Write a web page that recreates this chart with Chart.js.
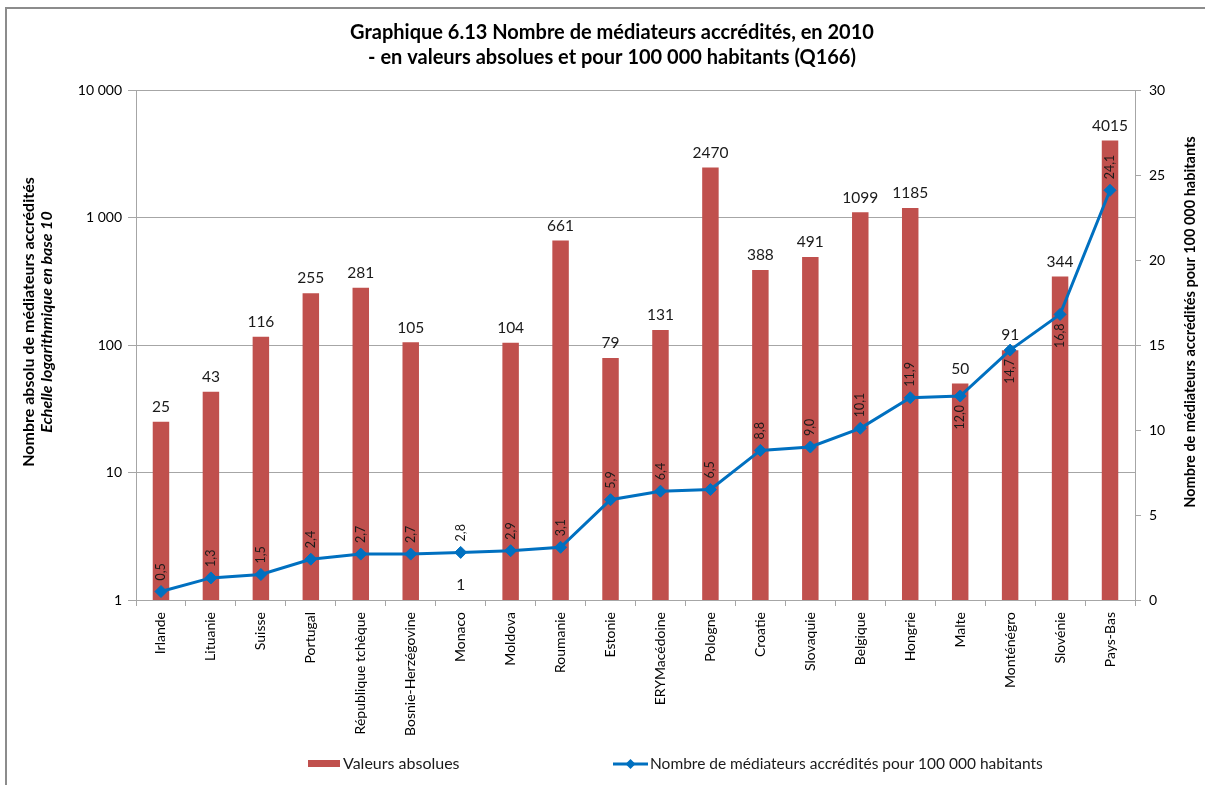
<!DOCTYPE html>
<html>
<head>
<meta charset="utf-8">
<script src="https://cdn.jsdelivr.net/npm/chart.js@4.4.0/dist/chart.umd.min.js"></script>
<style>
    html, body { margin: 0; padding: 0; background: #fff; }
    #wrap { width: 1205px; height: 785px; }
</style>
</head>
<body>
<div id="wrap"><canvas id="mediateursChart" width="1205" height="785"></canvas></div>
<script>
// Data
var pays = ['Irlande', 'Lituanie', 'Suisse', 'Portugal', 'République tchèque', 'Bosnie-Herzégovine',
    'Monaco', 'Moldova', 'Roumanie', 'Estonie', 'ERYMacédoine', 'Pologne', 'Croatie', 'Slovaquie',
    'Belgique', 'Hongrie', 'Malte', 'Monténégro', 'Slovénie', 'Pays-Bas'];
var valeursAbsolues = [25, 43, 116, 255, 281, 105, 1, 104, 661, 79, 131, 2470, 388, 491, 1099, 1185, 50, 91, 344, 4015];
var pour100000 = [0.5, 1.3, 1.5, 2.4, 2.7, 2.7, 2.8, 2.9, 3.1, 5.9, 6.4, 6.5, 8.8, 9.0, 10.1, 11.9, 12.0, 14.7, 16.8, 24.1];
var ticksGauche = [1, 10, 100, 1000, 10000];
var ticksDroite = [0, 5, 10, 15, 20, 25, 30];

var titreGraphique = ['Graphique 6.13 Nombre de médiateurs accrédités, en 2010',
    '- en valeurs absolues et pour 100 000 habitants (Q166)'];
var titreAxeGauche = ['Nombre absolu de médiateurs accrédités', 'Echelle logarithmique en base 10'];
var titreAxeDroite = 'Nombre de médiateurs accrédités pour 100 000 habitants';
var legendeBarres = 'Valeurs absolues';
var legendeLigne = 'Nombre de médiateurs accrédités pour 100 000 habitants';

var rouge = '#C0504D';
var bleu = '#0070C0';
var gris = '#A6A6A6';
var police = 'Lato, "Liberation Sans", sans-serif';

// line labels that Excel put under the point
var etiquettesDessous = ['Malte', 'Monténégro', 'Slovénie'];

function milliers(v) {
    return String(v).replace(/\B(?=(\d{3})+(?!\d))/g, ' ');
}

var habillage = {
    id: 'habillage',
    beforeDraw: function(chart) {
        var ctx = chart.ctx;
        ctx.save();
        ctx.strokeStyle = '#8C8C8C';
        ctx.lineWidth = 2;
        ctx.strokeRect(6, 8, 1300, 900);
        ctx.restore();
    },
    afterDatasetsDraw: function(chart) {
        var ctx = chart.ctx;
        ctx.save();
        // values above the bars
        ctx.fillStyle = '#1a1a1a';
        ctx.font = '15.5px ' + police;
        ctx.textAlign = 'center';
        ctx.textBaseline = 'bottom';
        chart.getDatasetMeta(1).data.forEach(function(bar, i) {
            ctx.fillText(String(valeursAbsolues[i]), bar.x, bar.y - 7);
        });
        // rotated values of the line
        ctx.font = '12.5px ' + police;
        ctx.textBaseline = 'middle';
        chart.getDatasetMeta(0).data.forEach(function(pt, i) {
            var txt = pour100000[i].toFixed(1).replace('.', ',');
            var dessous = etiquettesDessous.indexOf(pays[i]) >= 0;
            ctx.save();
            ctx.translate(pt.x, dessous ? pt.y + 9 : pt.y - 11);
            ctx.rotate(-Math.PI / 2);
            ctx.textAlign = dessous ? 'right' : 'left';
            ctx.fillText(txt, 0, 0);
            ctx.restore();
        });
        ctx.restore();
    },
    afterDraw: function(chart) {
        var ctx = chart.ctx;
        ctx.save();
        ctx.fillStyle = '#000';

        // title
        ctx.font = 'bold 20px ' + police;
        ctx.textAlign = 'center';
        ctx.textBaseline = 'middle';
        ctx.fillText(titreGraphique[0], 612, 33);
        ctx.fillText(titreGraphique[1], 612, 58);

        // left axis title (two lines, second in italic)
        ctx.save();
        ctx.translate(29, 322);
        ctx.rotate(-Math.PI / 2);
        ctx.font = 'bold 16px ' + police;
        ctx.fillText(titreAxeGauche[0], 0, 0);
        ctx.font = 'italic bold 16px ' + police;
        ctx.fillText(titreAxeGauche[1], 0, 18);
        ctx.restore();

        // right axis title
        ctx.save();
        ctx.translate(1190, 322);
        ctx.rotate(-Math.PI / 2);
        ctx.font = 'bold 14.5px ' + police;
        ctx.fillText(titreAxeDroite, 0, 0);
        ctx.restore();

        // legend
        ctx.font = '16px ' + police;
        ctx.textAlign = 'left';
        ctx.fillStyle = rouge;
        ctx.fillRect(308, 760, 32, 7);
        ctx.fillStyle = '#1a1a1a';
        ctx.fillText(legendeBarres, 343, 764);

        ctx.strokeStyle = bleu;
        ctx.lineWidth = 3;
        ctx.beginPath();
        ctx.moveTo(613, 764);
        ctx.lineTo(648, 764);
        ctx.stroke();
        ctx.fillStyle = bleu;
        ctx.beginPath();
        ctx.moveTo(630.5, 759);
        ctx.lineTo(635.5, 764);
        ctx.lineTo(630.5, 769);
        ctx.lineTo(625.5, 764);
        ctx.closePath();
        ctx.fill();
        ctx.fillStyle = '#1a1a1a';
        ctx.font = '15.5px ' + police;
        ctx.fillText(legendeLigne, 650, 764);
        ctx.restore();
    }
};

var ctx = document.getElementById('mediateursChart').getContext('2d');
var mediateursChart = new Chart(ctx, {
    type: 'bar',
    data: {
        labels: pays,
        datasets: [
            {
                type: 'line',
                label: legendeLigne,
                data: pour100000,
                yAxisID: 'y1',
                borderColor: bleu,
                backgroundColor: bleu,
                borderWidth: 3,
                pointStyle: 'rectRot',
                pointRadius: 6,
                pointBorderWidth: 1,
                tension: 0,
                order: 0
            },
            {
                type: 'bar',
                label: legendeBarres,
                data: valeursAbsolues,
                yAxisID: 'y',
                backgroundColor: rouge,
                categoryPercentage: 1,
                barPercentage: 0.33,
                order: 1
            }
        ]
    },
    options: {
        responsive: false,
        devicePixelRatio: 1,
        animation: false,
        layout: { padding: { top: 90, left: 0, right: 0, bottom: 0 } },
        plugins: {
            legend: { display: false },
            title: { display: false },
            tooltip: { enabled: false }
        },
        scales: {
            x: {
                offset: true,
                grid: { offset: true, drawOnChartArea: false, tickLength: 6, color: gris },
                border: { color: gris },
                ticks: {
                    autoSkip: false, minRotation: 90, maxRotation: 90, padding: 6,
                    color: '#000', font: { family: police, size: 14 }
                },
                afterFit: function(scale) { scale.height = 185; }
            },
            y: {
                type: 'logarithmic',
                position: 'left',
                min: 1,
                max: 10000,
                afterBuildTicks: function(scale) {
                    scale.ticks = ticksGauche.map(function(v) { return { value: v }; });
                },
                grid: { color: gris, tickLength: 8 },
                border: { color: gris },
                ticks: {
                    padding: 6, color: '#000', font: { family: police, size: 14 },
                    callback: function(v) { return milliers(v); }
                },
                afterFit: function(scale) { scale.width = 136; }
            },
            y1: {
                type: 'linear',
                position: 'right',
                min: 0,
                max: 30,
                afterBuildTicks: function(scale) {
                    scale.ticks = ticksDroite.map(function(v) { return { value: v }; });
                },
                grid: { drawOnChartArea: false, color: gris, tickLength: 6 },
                border: { color: gris },
                ticks: { padding: 8, color: '#000', font: { family: police, size: 14 } },
                afterFit: function(scale) { scale.width = 70; }
            }
        }
    },
    plugins: [habillage]
});
</script>
</body>
</html>
